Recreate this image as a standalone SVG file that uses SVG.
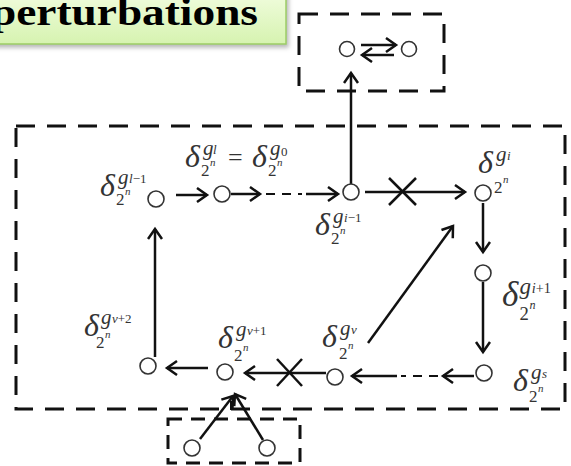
<svg xmlns="http://www.w3.org/2000/svg" width="571" height="466" viewBox="0 0 571 466">
<defs>
<linearGradient id="gr" x1="0" y1="0" x2="0" y2="1">
<stop offset="0" stop-color="#f2fde0"/>
<stop offset="1" stop-color="#d6f3b0"/>
</linearGradient>
<filter id="sh" x="-10%" y="-30%" width="130%" height="180%">
<feDropShadow dx="2" dy="3" stdDeviation="2" flood-color="#888" flood-opacity="0.6"/>
</filter>
<marker id="ah" markerUnits="userSpaceOnUse" markerWidth="16" markerHeight="18" refX="11" refY="8" orient="auto">
<path d="M1,1 L11,8 L1,15" fill="none" stroke="#111" stroke-width="2.5"/>
</marker>
</defs>
<style>
.bx{fill:none;stroke:#111;stroke-width:3;stroke-dasharray:19 12}
.nd{fill:#fff;stroke:#333;stroke-width:1.6}
.ln{fill:none;stroke:#111;stroke-width:2.5}
.ar{fill:none;stroke:#111;stroke-width:2.5;marker-end:url(#ah)}
.dl{fill:none;stroke:#111;stroke-width:2;stroke-dasharray:9 7}
text{font-family:'Liberation Serif','DejaVu Serif',serif;fill:#333}
.d{font-size:32px;font-style:italic}
.g{font-size:21px;font-style:italic}
.s{font-size:13px;font-style:italic}
.r{font-style:normal}
.t{font-size:17px}
.n{font-size:11px;font-style:italic}
</style>

<g id="title">
<rect x="-20" y="-10" width="306" height="54" fill="url(#gr)" stroke="#9ccc65" stroke-width="1.5" filter="url(#sh)"/>
<text x="-9" y="25" font-family="Liberation Serif, serif" font-size="37" font-weight="bold" textLength="267" lengthAdjust="spacingAndGlyphs" style="fill:#000">perturbations</text>
</g>

<g id="boxes">
<rect class="bx" x="299" y="14" width="145" height="77"/>
<rect class="bx" x="16" y="126" width="549" height="283"/>
<rect class="bx" x="168" y="419" width="132" height="44" style="stroke-dasharray:14 9"/>
</g>

<g id="connectors">
<line class="ar" x1="351" y1="184" x2="351" y2="73"/>
<line class="ar" x1="361" y1="45" x2="396" y2="45"/>
<line class="ar" x1="394" y1="55" x2="362" y2="55"/>
<line class="ar" x1="176" y1="195" x2="207" y2="195"/>
<line class="ar" x1="231" y1="194" x2="260" y2="194"/>
<line class="dl" x1="266" y1="194" x2="302" y2="194"/>
<line class="ar" x1="306" y1="194" x2="338" y2="194"/>
<line class="ar" x1="365" y1="192" x2="465" y2="192"/>
<line class="ln" x1="389" y1="178" x2="416" y2="205"/>
<line class="ln" x1="389" y1="205" x2="416" y2="178"/>
<line class="ar" x1="483" y1="203" x2="483" y2="252"/>
<line class="ar" x1="483" y1="282" x2="483" y2="352"/>
<line class="ar" x1="474" y1="376" x2="443" y2="376"/>
<line class="dl" x1="438" y1="376" x2="401" y2="376"/>
<line class="ar" x1="397" y1="376" x2="352" y2="376"/>
<line class="ar" x1="368" y1="343" x2="453" y2="226"/>
<line class="ar" x1="326" y1="373" x2="245" y2="373"/>
<line class="ln" x1="277" y1="359" x2="302" y2="386"/>
<line class="ln" x1="277" y1="386" x2="302" y2="359"/>
<line class="ar" x1="208" y1="368" x2="167" y2="368"/>
<line class="ar" x1="155" y1="357" x2="155" y2="229"/>
<line class="ar" x1="200" y1="439" x2="233" y2="396"/>
<line class="ar" x1="263" y1="440" x2="235" y2="394"/>
<line class="ln" x1="231" y1="401" x2="231" y2="410" style="stroke-width:2"/>
</g>

<g id="n-top1"><circle class="nd" cx="347" cy="49" r="7.5"/></g>
<g id="n-top2"><circle class="nd" cx="409" cy="49" r="7.5"/></g>
<g id="n-bot1"><circle class="nd" cx="192" cy="448" r="8"/></g>
<g id="n-bot2"><circle class="nd" cx="267" cy="448" r="8"/></g>

<g id="n-gl-1">
<circle class="nd" cx="156" cy="199" r="8"/>
<g transform="translate(100,196)">
<text class="d">δ</text><text class="g" x="18" y="-12">g</text><text class="s" x="29" y="-13">l<tspan class="r">−1</tspan></text>
<text class="t" x="16" y="9">2</text><text class="n" x="25" y="-1">n</text>
</g>
</g>

<g id="n-gl">
<circle class="nd" cx="222" cy="194" r="8"/>
<g transform="translate(185,167)">
<text class="d">δ</text><text class="g" x="18" y="-12">g</text><text class="s" x="28" y="-13">l</text>
<text class="t" x="16" y="9">2</text><text class="n" x="25" y="-1">n</text>
</g>
<text x="228" y="166" font-size="26">=</text>
<g transform="translate(252,167)">
<text class="d">δ</text><text class="g" x="18" y="-12">g</text><text class="s r" x="29" y="-11">0</text>
<text class="t" x="16" y="9">2</text><text class="n" x="25" y="-1">n</text>
</g>
</g>

<g id="n-gi-1">
<circle class="nd" cx="351" cy="192" r="8"/>
<g transform="translate(315,235)">
<text class="d">δ</text><text class="g" x="18" y="-12">g</text><text class="s" x="29" y="-13">i<tspan class="r">−1</tspan></text>
<text class="t" x="16" y="9">2</text><text class="n" x="25" y="-1">n</text>
</g>
</g>

<g id="n-gi">
<circle class="nd" cx="483" cy="193" r="8"/>
<g transform="translate(478,173)">
<text class="d">δ</text><text class="g" x="18" y="-12">g</text><text class="s" x="29" y="-13">i</text>
<text class="t" x="16" y="20">2</text><text class="n" x="25" y="10">n</text>
</g>
</g>

<g id="n-gi+1">
<circle class="nd" cx="483" cy="273" r="8"/>
<g transform="translate(502,306) scale(1.1)">
<text class="d">δ</text><text class="g" x="16" y="-11">g</text><text class="s" x="27" y="-12">i<tspan class="r">+1</tspan></text>
<text class="t" x="16" y="13">2</text><text class="n" x="25" y="3">n</text>
</g>
</g>

<g id="n-gs">
<circle class="nd" cx="484" cy="373" r="8"/>
<g transform="translate(513,391)">
<text class="d">δ</text><text class="g" x="18" y="-12">g</text><text class="s" x="29" y="-13">s</text>
<text class="t" x="16" y="11">2</text><text class="n" x="25" y="1">n</text>
</g>
</g>

<g id="n-gv">
<circle class="nd" cx="335" cy="377" r="8"/>
<g transform="translate(322,347)">
<text class="d">δ</text><text class="g" x="18" y="-12">g</text><text class="s" x="29" y="-13">v</text>
<text class="t" x="17" y="12">2</text><text class="n" x="26" y="2">n</text>
</g>
</g>

<g id="n-gv+1">
<circle class="nd" cx="225" cy="372" r="8"/>
<g transform="translate(218,348)">
<text class="d">δ</text><text class="g" x="18" y="-12">g</text><text class="s" x="29" y="-13">v<tspan class="r">+1</tspan></text>
<text class="t" x="16" y="13">2</text><text class="n" x="25" y="3">n</text>
</g>
</g>

<g id="n-gv+2">
<circle class="nd" cx="148" cy="366" r="8"/>
<g transform="translate(84,336)">
<text class="d">δ</text><text class="g" x="17" y="-12">g</text><text class="s" x="28" y="-13">v<tspan class="r">+2</tspan></text>
<text class="t" x="12" y="12">2</text><text class="n" x="21" y="2">n</text>
</g>
</g>
</svg>
